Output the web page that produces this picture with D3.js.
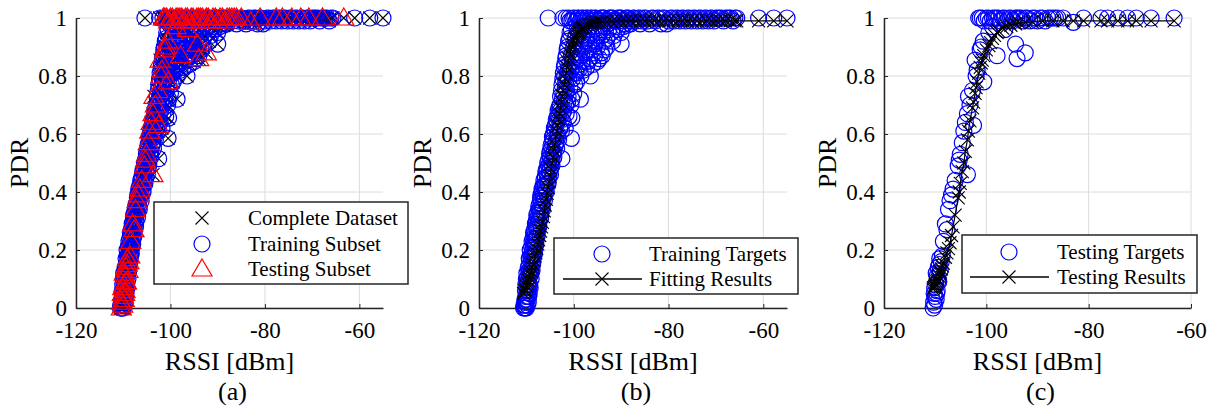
<!DOCTYPE html>
<html>
<head>
<meta charset="utf-8">
<script src="https://cdn.jsdelivr.net/npm/d3@7"></script>
<style>
  body { margin: 0; background: #fff; }
  svg text { font-family: "Liberation Serif", "Times New Roman", serif; }
</style>
</head>
<body>
<div id="chart"></div>
<script>
// [RSSI dBm, PDR]
const trainingSubset = [
  [-110.4,0],[-110.2,0],[-110.0,0],[-109.8,0.01],[-110.3,0.02],[-109.6,0.02],[-110.1,0.04],[-109.4,0.05],
  [-109.9,0.06],[-109.2,0.07],[-109.7,0.08],[-110.0,0.1],[-109.0,0.1],[-109.5,0.12],[-108.8,0.13],[-109.3,0.15],
  [-108.6,0.16],[-109.1,0.18],[-108.3,0.19],[-108.9,0.21],[-108.0,0.22],[-108.6,0.24],[-107.7,0.25],[-108.3,0.27],
  [-107.4,0.28],[-107.9,0.30],[-107.0,0.31],[-107.6,0.33],[-106.6,0.34],[-107.2,0.36],[-106.2,0.37],[-106.9,0.39],
  [-105.8,0.40],[-106.5,0.42],[-105.4,0.43],[-106.1,0.45],[-104.9,0.46],[-105.7,0.48],[-104.6,0.49],[-105.3,0.51],
  [-104.2,0.52],[-105.0,0.54],[-103.6,0.55],[-104.6,0.57],[-103.2,0.58],[-104.3,0.60],[-102.6,0.61],[-103.9,0.63],
  [-101.8,0.62],[-103.5,0.66],[-102.4,0.67],[-101.0,0.66],[-103.1,0.69],[-102.0,0.71],[-100.6,0.70],[-102.8,0.73],
  [-101.5,0.75],[-100.0,0.74],[-102.5,0.77],[-101.1,0.79],[-99.4,0.78],[-102.2,0.81],[-100.7,0.82],[-98.5,0.80],
  [-101.9,0.84],[-100.3,0.85],[-98.9,0.84],[-97.3,0.83],[-101.6,0.87],[-99.9,0.88],[-98.3,0.87],[-96.6,0.86],
  [-95.0,0.85],[-101.3,0.90],[-99.5,0.91],[-97.8,0.90],[-96.0,0.89],[-94.2,0.88],[-93.0,0.90],[-100.9,0.93],
  [-99.0,0.94],[-97.2,0.93],[-95.4,0.92],[-91.8,0.92],[-100.5,0.96],[-98.5,0.96],[-96.5,0.95],[-94.6,0.95],
  [-92.6,0.96],[-90.8,0.96],[-89.6,0.97],
  [-110.5,0.01],[-110.3,0.03],[-110.0,0.02],[-109.7,0.04],[-110.2,0.06],[-109.5,0.07],[-110.1,0.08],[-109.8,0.10],
  [-109.3,0.11],[-109.9,0.12],[-109.1,0.13],[-109.6,0.14],[-108.9,0.16],[-109.4,0.17],[-108.7,0.18],[-109.2,0.20],
  [-108.5,0.21],[-108.8,0.23],[-108.1,0.24],[-108.5,0.26],[-107.8,0.27],[-108.1,0.29],[-107.5,0.30],[-107.8,0.32],
  [-107.2,0.33],[-107.4,0.35],[-106.8,0.36],[-107.0,0.38],[-106.4,0.39],[-106.7,0.41],[-106.0,0.42],[-106.3,0.44],
  [-105.6,0.45],[-105.9,0.47],[-105.2,0.47],[-105.5,0.50],[-104.8,0.50],[-105.1,0.53],[-104.4,0.53],[-104.8,0.56],
  [-103.9,0.56],[-104.5,0.59],[-103.4,0.59],[-104.1,0.62],[-102.9,0.62],[-103.7,0.65],[-102.2,0.64],[-103.3,0.68],
  [-101.6,0.67],[-102.9,0.70],[-101.3,0.71],[-102.6,0.75],[-100.4,0.72],[-101.8,0.76],[-99.8,0.77],[-102.3,0.79],
  [-101.4,0.80],[-100.0,0.81],[-99.0,0.82],
  [-102.0,0.83],[-101.0,0.84],[-99.6,0.85],[-98.2,0.85],[-96.0,0.84],[-101.7,0.86],[-100.5,0.87],[-99.2,0.88],
  [-97.5,0.88],[-95.6,0.87],[-94.6,0.86],[-101.4,0.89],[-100.0,0.90],[-98.6,0.91],[-96.8,0.91],[-95.0,0.90],
  [-93.6,0.92],[-101.1,0.92],[-99.6,0.93],[-98.0,0.94],[-96.2,0.94],[-94.0,0.94],[-92.0,0.95],[-100.8,0.95],
  [-99.3,0.96],[-97.6,0.97],[-95.8,0.97],[-93.4,0.97],[-91.2,0.97],[-88.8,0.975],
  [-110.6,0],[-110.3,0.01],[-109.9,0.03],[-109.5,0.04],[-109.7,0.06],[-109.3,0.08],[-109.6,0.09],[-109.0,0.12],
  [-109.4,0.13],[-108.7,0.15],[-109.0,0.17],[-108.4,0.18],[-108.7,0.20],[-108.2,0.21],[-108.4,0.23],[-107.9,0.24],
  [-108.2,0.26],[-107.6,0.27],[-107.9,0.28],[-107.3,0.30],[-107.7,0.31],[-107.0,0.33],[-107.3,0.34],[-106.7,0.35],
  [-107.0,0.37],[-106.4,0.38],[-106.7,0.40],[-106.0,0.40],[-106.3,0.42],[-105.6,0.43],[-106.0,0.45],[-105.3,0.45],
  [-105.7,0.47],[-104.9,0.48],[-105.3,0.49],[-104.6,0.51],[-105.0,0.52],[-104.2,0.54],[-104.7,0.55],[-103.8,0.57],
  [-104.4,0.58],[-103.4,0.60],[-104.0,0.61],[-103.0,0.62],[-103.6,0.64],[-102.5,0.65],[-103.2,0.66],[-102.1,0.68],
  [-102.8,0.68],[-101.7,0.70],[-102.4,0.72],[-101.2,0.73],[-102.1,0.74],[-100.8,0.76],[-101.7,0.78],[-100.3,0.79],
  [-101.9,0.80],[-99.5,0.81],[-101.2,0.82],[-98.0,0.82],[-97.0,0.85],[-99.0,0.86],[-95.8,0.88],[-97.0,0.89],
  [-93.5,0.89],[-95.5,0.91],[-97.5,0.92],[-93.0,0.93],[-95.0,0.94],[-91.5,0.94],[-96.8,0.96],[-90.0,0.95],
  [-94.0,0.96],[-88.0,0.98],[-86.0,0.98],
  [-98.6,0.72],[-100.4,0.655],[-100.5,0.585],[-102.5,0.515],[-96.5,0.80],[-90.0,0.91],[-94.0,0.87],
  [-105.4,1],[-102.3,1],[-101.6,1],[-101.0,1],[-100.8,0.99],[-100.4,0.99],[-100.2,1],[-99.8,1],[-99.5,0.99],
  [-99.2,1],[-98.9,1],[-98.6,0.99],[-98.3,1],[-98.0,1],[-97.7,0.99],[-97.4,1],[-97.1,1],[-96.8,0.99],
  [-96.5,1],[-96.2,1],[-95.9,0.99],[-95.6,1],[-95.3,1],[-95.0,0.99],[-94.7,0.99],[-94.4,1],[-94.1,1],
  [-93.8,1],[-93.5,1],[-93.2,0.99],[-92.9,0.98],[-92.6,1],[-92.3,1],[-92.0,1],[-91.7,1],[-91.4,0.99],
  [-91.1,0.99],[-90.8,1],[-90.5,1],[-90.2,1],[-89.9,1],[-89.6,0.99],[-89.3,0.98],[-89.0,1],[-88.7,1],
  [-88.4,1],[-88.1,0.99],[-87.8,0.99],[-87.5,1],[-87.2,1],[-86.8,0.99],[-86.4,1],[-86.0,1],[-85.6,0.99],
  [-85.2,1],[-84.8,1],[-84.4,0.99],[-84.0,0.98],[-83.6,1],[-83.2,1],[-82.8,0.99],[-82.4,1],[-82.0,1],
  [-81.6,0.98],[-81.2,1],[-80.8,1],[-80.4,0.98],[-80.0,0.99],[-79.6,1],[-79.2,1],[-78.8,0.99],[-78.4,1],
  [-78.0,1],[-77.6,0.99],[-77.2,1],[-76.8,1],[-76.4,0.99],[-76.0,1],[-75.6,1],[-75.2,0.99],[-74.8,1],
  [-74.4,1],[-74.0,0.99],[-73.6,1],[-73.2,1],[-72.8,0.99],[-72.4,1],[-72.0,1],[-71.6,0.99],[-71.2,1],
  [-70.8,1],[-70.4,0.99],[-70.0,1],[-69.6,1],[-69.2,1],[-68.8,1],[-68.4,0.99],[-68.0,1],[-67.6,1],
  [-67.2,1],[-66.8,1],[-66.4,0.99],[-66.0,1],[-65.6,1],[-61.0,1],[-57.8,1],[-55.0,1]
];

const testingSubset = [
  [-110.4,0],[-110.1,0.01],[-109.8,0.03],[-110.2,0.05],[-109.6,0.06],[-109.9,0.08],[-109.3,0.09],[-109.6,0.11],
  [-109.0,0.13],[-109.2,0.15],[-108.6,0.18],[-108.4,0.23],[-108.0,0.29],[-107.4,0.34],[-107.1,0.37],[-106.5,0.41],
  [-106.1,0.44],[-105.5,0.49],[-103.7,0.46],[-105.1,0.53],[-104.7,0.57],[-104.1,0.64],[-102.5,0.63],[-103.7,0.67],
  [-103.5,0.73],[-102.7,0.75],[-100.5,0.78],[-101.8,0.82],[-102.2,0.855],[-101.2,0.89],[-100.6,0.92],[-97.9,0.87],
  [-94.3,0.91],[-94.0,0.86],[-92.4,0.88],
  [-110.3,0.02],[-110.0,0.04],[-109.7,0.05],[-110.1,0.07],[-109.5,0.09],[-109.8,0.12],[-109.4,0.14],[-109.1,0.17],
  [-108.8,0.16],[-107.7,0.27],[-106.8,0.39],[-105.3,0.51],[-104.4,0.61],[-103.2,0.70],[-102.0,0.80],[-101.0,0.90],
  [-99.5,0.95],[-98.8,0.97],[-96.4,0.96],
  [-101.5,1],[-101.2,1],[-100.8,1],[-100.4,0.99],[-100.0,1],[-99.6,1],[-99.2,0.99],[-98.8,1],[-98.4,1],
  [-98.0,1],[-97.6,1],[-97.2,0.99],[-96.8,1],[-96.4,1],[-96.0,0.99],[-95.6,1],[-95.2,1],[-94.8,0.99],
  [-94.4,1],[-94.0,1],[-93.6,1],[-93.2,1],[-92.8,0.99],[-92.4,1],[-92.0,1],[-91.5,0.99],[-91.0,1],
  [-90.5,1],[-90.0,0.99],[-89.5,1],[-89.0,1],[-88.5,0.99],[-88.0,1],[-87.5,1],[-87.0,1],[-86.5,1],
  [-86.0,1],[-85.0,1],[-83.0,0.985],[-81.0,1],[-77.6,1],[-76.3,1],[-74.3,1],[-72.4,1],[-70.7,1],
  [-67.8,1],[-63.3,1]
];

const fittingResults = [
  [-110.6,0.05],[-110.4,0.06],[-110.2,0.065],[-110.0,0.075],[-109.8,0.085],[-109.6,0.095],[-109.4,0.105],
  [-109.2,0.115],[-109.0,0.125],[-108.8,0.14],[-108.6,0.15],[-108.4,0.165],[-108.2,0.18],[-108.0,0.19],
  [-107.8,0.205],[-107.6,0.22],[-107.4,0.235],[-107.2,0.25],[-107.0,0.265],[-106.8,0.28],[-106.6,0.295],
  [-106.4,0.315],[-106.2,0.335],[-106.0,0.355],[-105.8,0.375],[-105.6,0.395],[-105.4,0.415],[-105.2,0.435],
  [-105.0,0.455],[-104.8,0.48],[-104.6,0.50],[-104.4,0.52],[-104.2,0.545],[-104.0,0.565],[-103.8,0.59],
  [-103.6,0.61],[-103.4,0.63],[-103.2,0.65],[-103.0,0.67],[-102.8,0.69],[-102.6,0.71],[-102.4,0.73],
  [-102.2,0.75],[-102.0,0.77],[-101.8,0.79],[-101.6,0.81],[-101.4,0.83],[-101.2,0.845],[-101.0,0.86],
  [-100.8,0.875],[-100.6,0.89],[-100.4,0.90],[-100.2,0.91],[-100.0,0.92],[-99.8,0.93],[-99.6,0.935],
  [-99.4,0.94],[-99.2,0.945],[-99.0,0.95],[-98.8,0.955],[-98.6,0.96],[-98.4,0.963],[-98.2,0.966],
  [-98.0,0.969],[-97.5,0.973],[-97.0,0.976],[-96.5,0.979],[-96.0,0.981],[-95.5,0.983],[-95.0,0.984],
  [-94.5,0.985],[-94.0,0.986],[-93.0,0.987],[-92.0,0.988],[-91.0,0.989],[-90.0,0.99],[-89.0,0.99],
  [-88.0,0.99],[-87.0,0.99],[-86.0,0.99],[-85.0,0.99],[-84.0,0.99],[-83.0,0.99],[-82.0,0.99],[-81.0,0.99],
  [-80.0,0.99],[-79.0,0.99],[-78.0,0.99],[-77.0,0.99],[-76.0,0.99],[-75.0,0.99],[-74.0,0.99],[-73.0,0.99],
  [-72.0,0.99],[-71.0,0.99],[-70.0,0.99],[-69.0,0.99],[-68.0,0.99],[-67.0,0.99],[-66.0,0.99],[-65.6,0.99],
  [-61.0,0.99],[-57.8,0.99],[-55.0,0.99]
];

const testingResults = [
  [-110.4,0.065],[-110.3,0.07],[-110.1,0.075],[-110.0,0.08],[-109.9,0.085],[-109.7,0.09],[-109.6,0.095],
  [-109.5,0.10],[-109.3,0.11],[-109.1,0.12],[-109.0,0.125],[-108.8,0.135],[-108.6,0.145],[-108.4,0.155],
  [-108.0,0.175],[-107.7,0.19],[-107.4,0.205],[-107.1,0.225],[-106.8,0.25],[-106.5,0.28],[-106.1,0.32],
  [-105.5,0.38],[-105.3,0.40],[-105.1,0.43],[-104.7,0.47],[-104.4,0.50],[-104.1,0.54],[-103.7,0.58],
  [-103.5,0.61],[-103.2,0.645],[-102.7,0.69],[-102.5,0.71],[-102.2,0.74],[-102.0,0.76],[-101.8,0.78],
  [-101.5,0.81],[-101.2,0.83],[-101.0,0.845],[-100.8,0.855],[-100.5,0.87],[-100.0,0.89],[-99.5,0.905],
  [-99.2,0.915],[-98.8,0.93],[-98.4,0.94],[-97.9,0.95],[-97.6,0.955],[-96.8,0.965],[-96.0,0.97],
  [-95.2,0.975],[-94.3,0.98],[-93.6,0.983],[-92.4,0.985],[-91.0,0.987],[-89.0,0.99],[-87.0,0.99],
  [-85.0,0.99],[-83.0,0.99],[-81.0,0.99],[-77.6,0.99],[-76.3,0.99],[-74.3,0.99],[-72.4,0.99],
  [-70.7,0.99],[-67.8,0.99],[-63.3,0.99]
];

const completeDataset = trainingSubset.concat(testingSubset);

const xTicks = [-120, -100, -80, -60];
const yTicks = [0, 0.2, 0.4, 0.6, 0.8, 1];

const W = 1217, H = 411;
const plotTop = 18, plotBottom = 308;
const axisColor = "#262626";

const svg = d3.select("#chart").append("svg")
  .attr("width", W).attr("height", H);

const panels = [
  { tag: "(a)", left: 76, right: 383, xMax: -55,
    layers: [
      { data: completeDataset, marker: "x", color: "#000" },
      { data: trainingSubset, marker: "o", color: "#0000ff" },
      { data: testingSubset, marker: "^", color: "#ff0000" }
    ],
    legend: { x: 154, y: 202, w: 254, h: 82, markX: 202, textX: 248, rowY: [218, 244, 269],
      items: [
        { label: "Complete Dataset", marker: "x", color: "#000" },
        { label: "Training Subset", marker: "o", color: "#0000ff" },
        { label: "Testing Subset", marker: "^", color: "#ff0000" }
      ] } },
  { tag: "(b)", left: 479, right: 787, xMax: -55,
    layers: [
      { data: trainingSubset, marker: "o", color: "#0000ff" },
      { data: fittingResults, marker: "x", color: "#000", line: true }
    ],
    legend: { x: 554, y: 238, w: 244, h: 56, markX: 602, lineX: [563, 642], textX: 649, rowY: [254, 279],
      items: [
        { label: "Training Targets", marker: "o", color: "#0000ff" },
        { label: "Fitting Results", marker: "x", color: "#000", line: true }
      ] } },
  { tag: "(c)", left: 884, right: 1191, xMax: -60,
    layers: [
      { data: testingSubset, marker: "o", color: "#0000ff" },
      { data: testingResults, marker: "x", color: "#000", line: true }
    ],
    legend: { x: 962, y: 235, w: 235, h: 58, markX: 1009, lineX: [970, 1049], textX: 1057, rowY: [252, 277],
      items: [
        { label: "Testing Targets", marker: "o", color: "#0000ff" },
        { label: "Testing Results", marker: "x", color: "#000", line: true }
      ] } }
];

function drawMarker(g, type, color, x, y) {
  if (type === "o") {
    g.append("circle").attr("cx", x).attr("cy", y).attr("r", 8)
      .attr("fill", "none").attr("stroke", color).attr("stroke-width", 1.2);
  } else if (type === "x") {
    const s = 6.5;
    g.append("path")
      .attr("d", `M${x - s},${y - s}L${x + s},${y + s}M${x - s},${y + s}L${x + s},${y - s}`)
      .attr("stroke", color).attr("stroke-width", 1.1).attr("fill", "none");
  } else {
    g.append("path")
      .attr("d", `M${x},${y - 10}L${x + 10},${y + 7}L${x - 10},${y + 7}Z`)
      .attr("stroke", color).attr("stroke-width", 1.2).attr("fill", "none");
  }
}

panels.forEach(p => {
  const x = d3.scaleLinear().domain([-120, p.xMax]).range([p.left, p.right]);
  const y = d3.scaleLinear().domain([0, 1]).range([plotBottom, plotTop]);
  const g = svg.append("g");

  // grid
  g.append("g").selectAll("line").data(xTicks).join("line")
    .attr("x1", d => x(d)).attr("x2", d => x(d)).attr("y1", plotTop).attr("y2", plotBottom)
    .attr("stroke", "#dcdcdc").attr("stroke-width", 1);
  g.append("g").selectAll("line").data(yTicks).join("line")
    .attr("x1", p.left).attr("x2", p.right).attr("y1", d => y(d)).attr("y2", d => y(d))
    .attr("stroke", "#dcdcdc").attr("stroke-width", 1);

  // axes
  const xAxis = d3.axisBottom(x).tickValues(xTicks).tickSize(-4).tickSizeOuter(0)
    .tickPadding(10).tickFormat(d => String(d));
  const yAxis = d3.axisLeft(y).tickValues(yTicks).tickSize(-4).tickSizeOuter(0)
    .tickPadding(12).tickFormat(d => String(d));
  const gx = g.append("g").attr("transform", `translate(0,${plotBottom})`).call(xAxis);
  const gy = g.append("g").attr("transform", `translate(${p.left},0)`).call(yAxis);
  [gx, gy].forEach(a => {
    a.attr("font-family", null).attr("font-size", null);
    a.select(".domain").attr("stroke", axisColor).attr("stroke-width", 1.5);
    a.selectAll(".tick line").attr("stroke", axisColor).attr("stroke-width", 1);
    a.selectAll(".tick text").attr("fill", "#000").attr("font-size", 23);
  });
  gx.selectAll(".tick text").attr("dy", "0.71em").attr("y", 14);
  gy.selectAll(".tick text").attr("x", -9);

  // data layers
  const plot = g.append("g");
  p.layers.forEach(l => {
    const lg = plot.append("g");
    if (l.line) {
      lg.append("path").datum(l.data)
        .attr("d", d3.line().x(d => x(d[0])).y(d => y(d[1])))
        .attr("fill", "none").attr("stroke", l.color).attr("stroke-width", 1.2);
    }
    l.data.forEach(d => drawMarker(lg, l.marker, l.color, x(d[0]), y(d[1])));
  });

  // labels
  g.append("text").attr("x", (p.left + p.right) / 2).attr("y", 370)
    .attr("text-anchor", "middle").attr("font-size", 26).text("RSSI [dBm]");
  g.append("text").attr("x", (p.left + p.right) / 2 + 3).attr("y", 400)
    .attr("text-anchor", "middle").attr("font-size", 26).text(p.tag);
  g.append("text")
    .attr("transform", `translate(${p.left - 48},${(plotTop + plotBottom) / 2}) rotate(-90)`)
    .attr("text-anchor", "middle").attr("font-size", 26).text("PDR");

  // legend
  const L = p.legend;
  const lg = g.append("g");
  lg.append("rect").attr("x", L.x).attr("y", L.y).attr("width", L.w).attr("height", L.h)
    .attr("fill", "#fff").attr("stroke", axisColor).attr("stroke-width", 1.5);
  L.items.forEach((it, i) => {
    const ry = L.rowY[i];
    if (it.line) {
      lg.append("line").attr("x1", L.lineX[0]).attr("x2", L.lineX[1]).attr("y1", ry).attr("y2", ry)
        .attr("stroke", it.color).attr("stroke-width", 1.5);
    }
    drawMarker(lg, it.marker, it.color, L.markX, ry);
    lg.append("text").attr("x", L.textX).attr("y", ry + 7).attr("font-size", 21).text(it.label);
  });
});
</script>
</body>
</html>
